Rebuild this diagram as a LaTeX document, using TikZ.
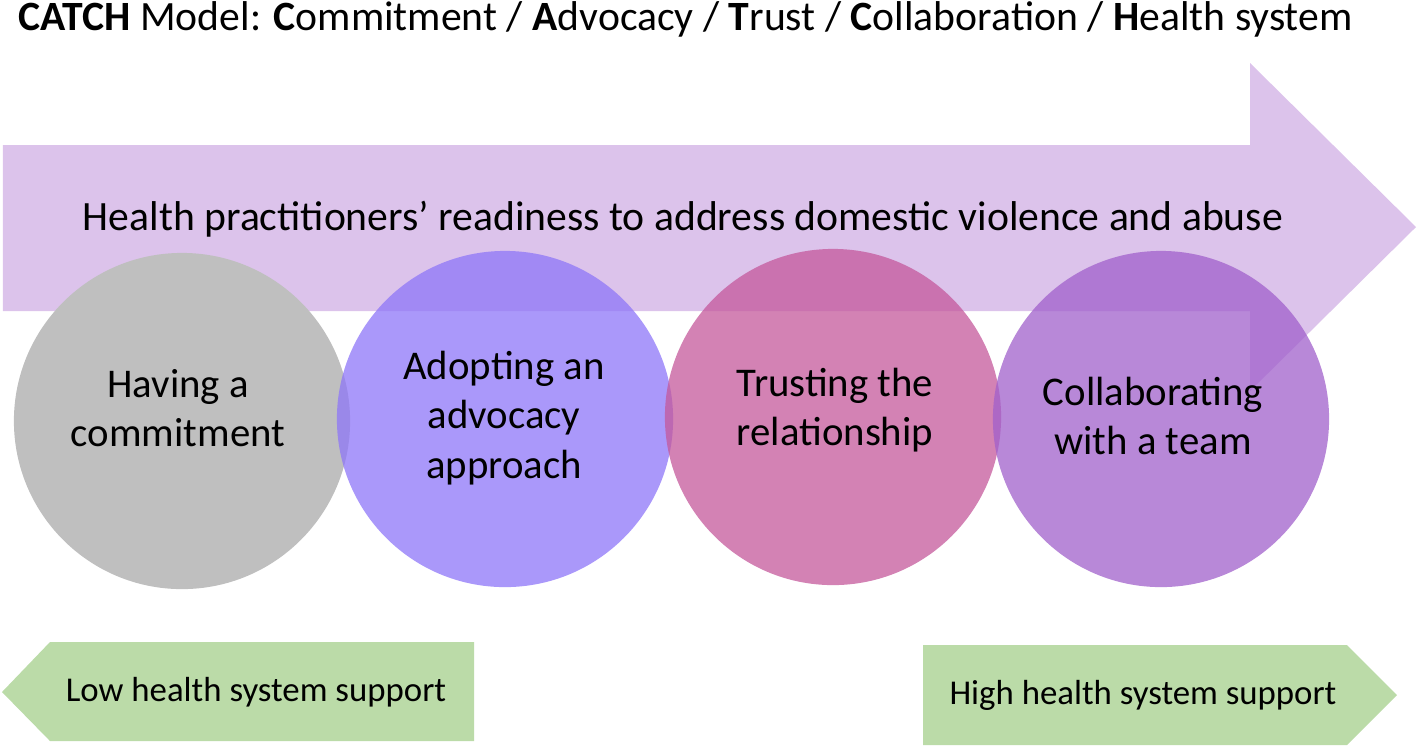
\documentclass[tikz,border=0pt]{standalone}
\usepackage{fontspec}
\setmainfont{Carlito}
\usepackage{tikz}

\definecolor{readylilac}{RGB}{220,195,235}
\definecolor{commitgray}{RGB}{191,191,191}
\definecolor{advocblue}{RGB}{142,118,248}
\definecolor{trustpink}{RGB}{196,88,155}
\definecolor{teampurple}{RGB}{160,96,203}
\definecolor{supportgreen}{RGB}{187,219,168}

\begin{document}
\begin{tikzpicture}[x=0.01cm,y=-0.01cm,
			stage/.style={circle,minimum size=3.36cm,inner sep=0pt},
			stagetext/.style={align=center,inner sep=0pt,font=\fontsize{11.6}{14}\selectfont},
			support/.style={fill=supportgreen,draw=none},
			supporttext/.style={font=\fontsize{9.9}{12}\selectfont}]
			\useasboundingbox (0,0) rectangle (1418,747);
			% title
			\node[anchor=base west,inner sep=0pt,font=\fontsize{11.85}{14}\selectfont] (title) at (18,30) {\textbf{CATCH} Model: \textbf{C}ommitment / \textbf{A}dvocacy / \textbf{T}rust / \textbf{C}ollaboration / \textbf{H}ealth system};
			% big arrow
			\fill[readylilac] (3,145) -- (1250,145) -- (1250,63) -- (1416,227) -- (1250,391) -- (1250,311) -- (3,311) -- cycle;
			\node[anchor=base,inner sep=0pt,font=\fontsize{11.85}{14}\selectfont] (readiness) at (683,230) {Health practitioners’ readiness to address domestic violence and abuse};
			% circles
			\node[stage,fill=commitgray] (commit) at (182,421) {};
			\node[stage,fill=advocblue,fill opacity=.75] (advoc) at (505,419) {};
			\node[stage,fill=trustpink,fill opacity=.75] (trust) at (833,417) {};
			\node[stage,fill=teampurple,fill opacity=.75] (team) at (1161,419) {};
			\node[stagetext] (committext) at (178,408) {Having a\\commitment};
			\node[stagetext] (advoctext) at (504,418) {Adopting an\\advocacy\\approach};
			\node[stagetext] (trusttext) at (835,410) {Trusting the\\relationship};
			\node[stagetext] (teamtext) at (1153,416) {Collaborating\\with a team};
			% support arrows
			\fill[support] (2,692) -- (50,642) -- (474,642) -- (474,741) -- (50,741) -- cycle;
			\node[supporttext] (low) at (256,692) {Low health system support};
			\fill[support] (923,645) -- (1347,645) -- (1397,695) -- (1347,745) -- (923,745) -- cycle;
			\node[supporttext] (high) at (1143,695) {High health system support};
			\end{tikzpicture}
\end{document}
